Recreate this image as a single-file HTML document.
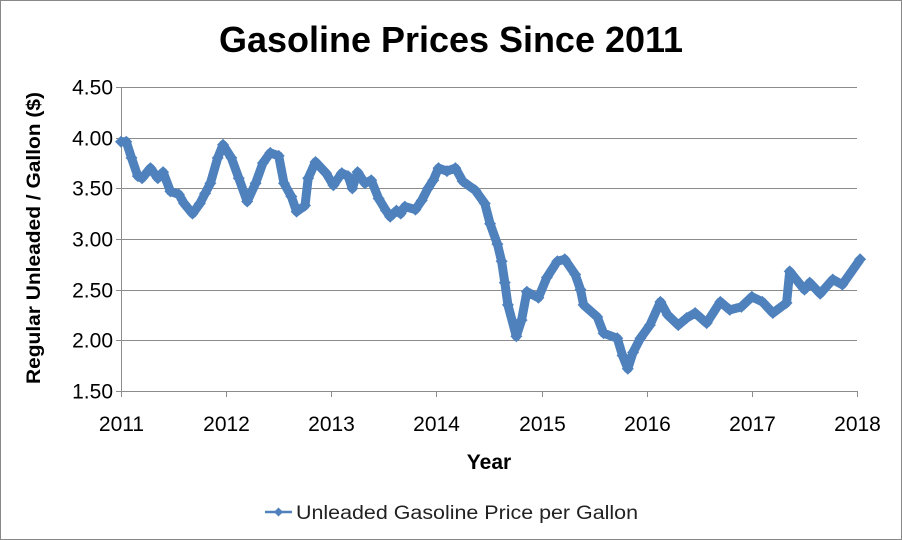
<!DOCTYPE html>
<html><head><meta charset="utf-8"><style>
body{margin:0;background:#fff}
svg{display:block;font-family:"Liberation Sans",sans-serif}
</style></head><body>
<svg width="902" height="540" viewBox="0 0 902 540">
<rect x="0.5" y="0.5" width="901" height="539" fill="#fff" stroke="#888"/>
<text x="451" y="52" text-anchor="middle" font-size="36" font-weight="bold" textLength="464" lengthAdjust="spacingAndGlyphs" fill="#000">Gasoline Prices Since 2011</text>
<g id="grid"></g>
<g id="axes"></g>
<g id="series"></g>
<text transform="translate(40,238) rotate(-90)" text-anchor="middle" font-size="19" font-weight="bold" textLength="292" lengthAdjust="spacingAndGlyphs">Regular Unleaded / Gallon ($)</text>
<text x="489" y="469" text-anchor="middle" font-size="21" font-weight="bold">Year</text>
<g>
<line x1="265" y1="512" x2="292" y2="512" stroke="#4f81bd" stroke-width="2.5"/>
<path d="M278.5 507.5 L283 512 L278.5 516.5 L274 512 Z" fill="#4f81bd"/>
<text x="296" y="519" font-size="19" fill="#222" textLength="342" lengthAdjust="spacingAndGlyphs">Unleaded Gasoline Price per Gallon</text>
</g>
<script>
const yearTicks=[2011,2012,2013,2014,2015,2016,2017,2018];
const priceTicks=[1.5,2.0,2.5,3.0,3.5,4.0,4.5];
const priceTickLabels=["1.50","2.00","2.50","3.00","3.50","4.00","4.50"];
const dates=[2011.0,2011.05,2011.1,2011.16,2011.2,2011.28,2011.35,2011.4,2011.47,2011.55,2011.6,2011.68,2011.75,2011.8,2011.85,2011.92,2011.97,2012.05,2012.12,2012.2,2012.28,2012.35,2012.42,2012.5,2012.55,2012.62,2012.67,2012.75,2012.78,2012.85,2012.95,2013.02,2013.1,2013.16,2013.2,2013.25,2013.32,2013.38,2013.45,2013.52,2013.56,2013.62,2013.66,2013.7,2013.8,2013.86,2013.92,2013.97,2014.02,2014.1,2014.18,2014.25,2014.37,2014.46,2014.51,2014.58,2014.62,2014.65,2014.68,2014.76,2014.81,2014.86,2014.97,2015.05,2015.15,2015.22,2015.32,2015.37,2015.4,2015.53,2015.59,2015.72,2015.77,2015.82,2015.87,2015.94,2016.03,2016.13,2016.2,2016.3,2016.38,2016.46,2016.57,2016.7,2016.79,2016.9,2017.0,2017.1,2017.2,2017.33,2017.36,2017.5,2017.55,2017.65,2017.77,2017.86,2018.03];
const prices=[3.96,3.96,3.80,3.62,3.60,3.70,3.60,3.66,3.47,3.44,3.35,3.25,3.35,3.45,3.55,3.80,3.93,3.80,3.60,3.37,3.55,3.75,3.85,3.82,3.55,3.42,3.27,3.33,3.60,3.76,3.65,3.53,3.65,3.62,3.50,3.66,3.55,3.58,3.40,3.28,3.22,3.28,3.25,3.32,3.29,3.38,3.50,3.58,3.70,3.67,3.70,3.57,3.48,3.35,3.15,2.95,2.78,2.57,2.35,2.04,2.20,2.48,2.42,2.62,2.78,2.80,2.65,2.50,2.35,2.23,2.07,2.02,1.85,1.72,1.88,2.02,2.15,2.38,2.25,2.15,2.22,2.27,2.17,2.38,2.30,2.33,2.43,2.38,2.27,2.37,2.68,2.50,2.57,2.46,2.60,2.55,2.80];
const NS="http://www.w3.org/2000/svg";
const X0=121,X1=857,Y0=391,Y1=87;
function xs(v){return X0+(v-2011)*(X1-X0)/7;}
function ys(v){return Y0-(v-1.5)*(Y0-Y1)/3;}
function mk(t,a,parent){const e=document.createElementNS(NS,t);for(const k in a)e.setAttribute(k,a[k]);parent.appendChild(e);return e;}
const grid=document.getElementById('grid'),axes=document.getElementById('axes'),ser=document.getElementById('series');
priceTicks.forEach((p,i)=>{
 const y=Math.round(ys(p))+0.5;
 if(i>0){const g=mk('line',{x1:X0,x2:X1,y1:y,y2:y,stroke:'#8c8c8c','stroke-width':1},grid);
 
 }
 mk('line',{x1:X0-5,x2:X0,y1:y,y2:y,stroke:'#8c8c8c'},axes);
 const t=mk('text',{x:X0-8,y:y+7,'text-anchor':'end','font-size':21,fill:'#000'},axes);
 t.textContent=priceTickLabels[i];
 
 
});
mk('line',{x1:X0+0.5,x2:X0+0.5,y1:Y1,y2:Y0,stroke:'#8c8c8c'},axes);
mk('line',{x1:X0,x2:X1,y1:Y0+0.5,y2:Y0+0.5,stroke:'#8c8c8c'},axes);
yearTicks.forEach(yr=>{
 const x=Math.round(xs(yr))+0.5;
 mk('line',{x1:x,x2:x,y1:Y0,y2:Y0+6,stroke:'#8c8c8c'},axes);
 const t=mk('text',{x:x,y:Y0+40,'text-anchor':'middle','font-size':21,fill:'#000'},axes);
 t.textContent=yr;
 
 
});
let d='';dates.forEach((v,i)=>{d+=(i?'L':'M')+xs(v).toFixed(1)+' '+ys(prices[i]).toFixed(1);});
const ln=mk('path',{d:d,fill:'none',stroke:'#4f81bd','stroke-width':9,'stroke-linejoin':'round'},ser);


dates.forEach((v,i)=>{
 const x=xs(v),y=ys(prices[i]);
 const m=mk('path',{d:`M${x} ${y-6}L${x+6} ${y}L${x} ${y+6}L${x-6} ${y}Z`,fill:'#4f81bd'},ser);
 
 
});
</script>
</svg>
</body></html>
